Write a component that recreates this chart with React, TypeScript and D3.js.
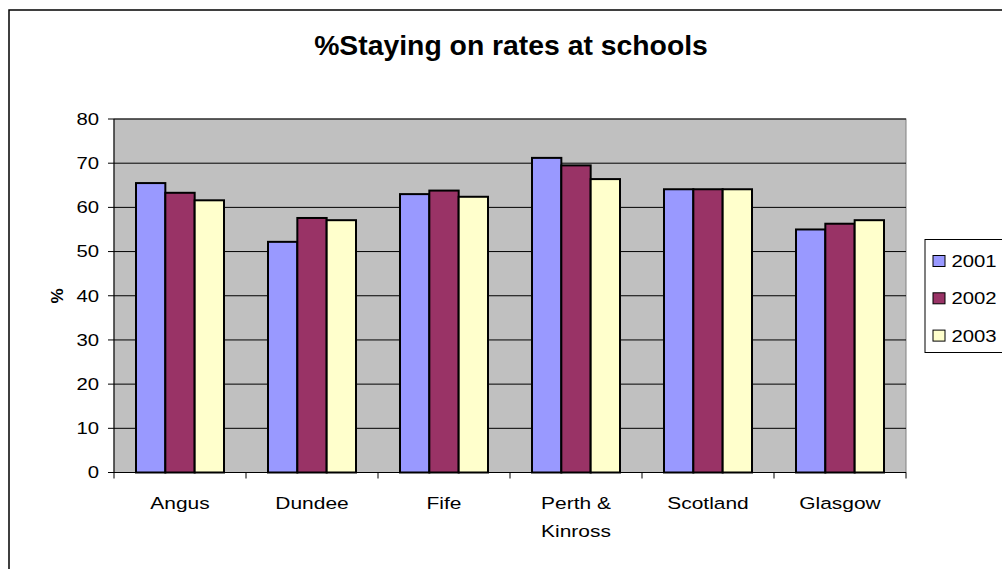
import React from "react";
import * as d3 from "d3";

const categories: string[][] = [["Angus"], ["Dundee"], ["Fife"], ["Perth &", "Kinross"], ["Scotland"], ["Glasgow"]];
const seriesNames = ["2001", "2002", "2003"];
const values2001 = [65.5, 52.2, 63.0, 71.2, 64.1, 55.0];
const values2002 = [63.3, 57.6, 63.8, 69.5, 64.1, 56.3];
const values2003 = [61.6, 57.1, 62.4, 66.4, 64.1, 57.1];
const yTicks = [0, 10, 20, 30, 40, 50, 60, 70, 80];
const colors = ["#9999FF", "#993366", "#FFFFCC"];
const title = "%Staying on rates at schools";
const yTitle = "%";

function SText(props: { x: number; y: number; sx?: number; anchor?: string; size: number; weight?: string; children: React.ReactNode }) {
  const { x, y, sx = 1.27, anchor = "start", size, weight = "normal", children } = props;
  return (
    <text transform={`translate(${x},${y}) scale(${sx},1)`} textAnchor={anchor} fontSize={size} fontWeight={weight}>
      {children}
    </text>
  );
}

export default function App() {
  const W = 1002, H = 569;
  const left = 114, right = 906, top = 119, bottom = 472.5;
  const font = "'Liberation Sans', Arial, sans-serif";
  const catKeys = categories.map((c) => c.join(" "));
  const x = d3.scaleBand<string>().domain(catKeys).range([left, right]).padding(0);
  const bw = x.bandwidth();
  const w = bw / 4.5;
  const xs = d3.scaleBand<string>().domain(seriesNames).range([0.75 * w, bw - 0.75 * w]).padding(0);
  const y = d3.scaleLinear().domain([0, 80]).range([bottom, top]);
  const series = [values2001, values2002, values2003];

  return (
    <svg width={W} height={H} style={{ position: "absolute", left: 0, top: 0, background: "#fff" }} fontFamily={font}>
      <rect x={9} y={10} width={W + 10} height={H + 10} fill="#fff" stroke="#000" strokeWidth={1.5} />
      <SText x={511} y={55} sx={1.05} anchor="middle" size={27} weight="bold">{title}</SText>
      <rect x={left} y={top} width={right - left} height={bottom - top} fill="#C0C0C0" stroke="#808080" strokeWidth={1} />
      {yTicks.map((t) => (
        <g key={t}>
          {t > 0 && <line x1={left} x2={right} y1={y(t)} y2={y(t)} stroke="#000" strokeWidth={1} />}
          <line x1={left - 6} x2={left} y1={y(t)} y2={y(t)} stroke="#000" strokeWidth={1} />
          <SText x={99} y={y(t) + 5.8} anchor="end" size={16}>{t}</SText>
        </g>
      ))}
      {series.map((vals, si) =>
        vals.map((v, ci) => (
          <rect key={si + "-" + ci}
            x={(x(catKeys[ci]) as number) + (xs(seriesNames[si]) as number)}
            y={y(v)} width={xs.bandwidth()} height={bottom - y(v)}
            fill={colors[si]} stroke="#000" strokeWidth={2} />
        ))
      )}
      <line x1={left} x2={left} y1={top} y2={bottom} stroke="#000" strokeWidth={1} />
      <line x1={left} x2={right} y1={bottom} y2={bottom} stroke="#000" strokeWidth={1} />
      {catKeys.map((k, i) => (
        <line key={"t" + i} x1={x(k)} x2={x(k)} y1={bottom} y2={bottom + 6} stroke="#000" strokeWidth={1} />
      ))}
      <line x1={right} x2={right} y1={bottom} y2={bottom + 6} stroke="#000" strokeWidth={1} />
      {categories.map((lines, i) => (
        <g key={"c" + i}>
          {lines.map((l, j) => (
            <SText key={j} x={(x(catKeys[i]) as number) + bw / 2} y={509 + j * 28} anchor="middle" size={16.5}>{l}</SText>
          ))}
        </g>
      ))}
      <text transform="translate(63,296) rotate(-90)" textAnchor="middle" fontSize={17} fontWeight="bold">{yTitle}</text>
      <rect x={925} y={239.5} width={100} height={113} fill="#fff" stroke="#000" strokeWidth={1} />
      {seriesNames.map((s, i) => (
        <g key={s}>
          <rect x={933} y={255.5 + i * 37.3} width={12} height={11} fill={colors[i]} stroke="#000" strokeWidth={1} />
          <SText x={951.5} y={267 + i * 37.3} size={16}>{s}</SText>
        </g>
      ))}
    </svg>
  );
}
